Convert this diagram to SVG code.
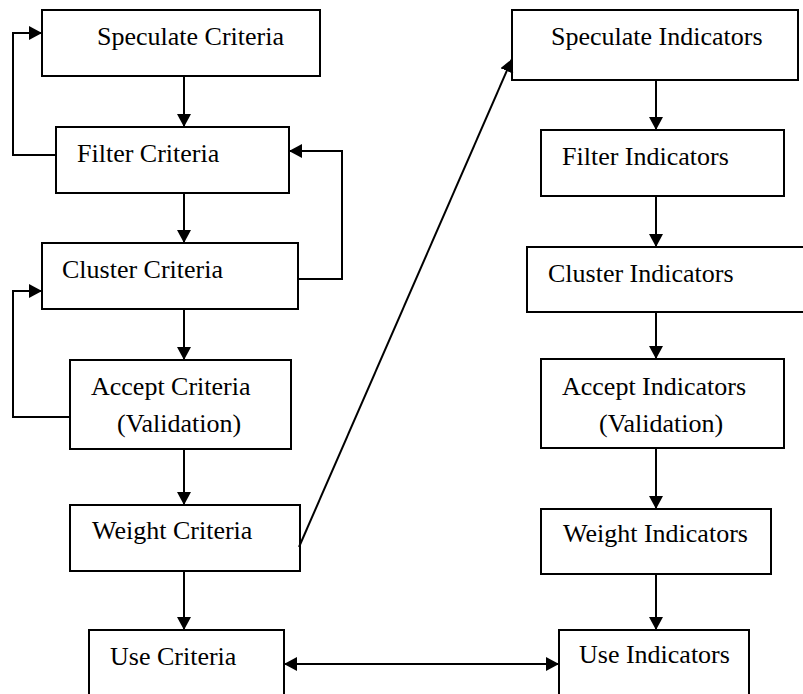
<svg xmlns="http://www.w3.org/2000/svg" width="803" height="694" viewBox="0 0 803 694">
  <style>
    .box { fill: #fff; stroke: #000; stroke-width: 2; }
    .lbl { font-family: "Liberation Serif", "Times New Roman", serif; font-size: 26px; fill: #000; }
    .wire { fill: none; stroke: #000; stroke-width: 2; }
  </style>
  <defs>
    <marker id="head" markerUnits="userSpaceOnUse" markerWidth="13" markerHeight="14" refX="13" refY="7" orient="auto-start-reverse">
      <path d="M0,0 L13,7 L0,14 z" fill="#000"/>
    </marker>
  </defs>
  <rect width="803" height="694" fill="#fff"/>

  <!-- criteria column -->
  <g id="speculate-criteria">
    <rect class="box" x="42" y="10" width="278" height="66"/>
    <text class="lbl" x="97" y="45">Speculate Criteria</text>
  </g>
  <g id="filter-criteria">
    <rect class="box" x="56" y="127" width="233" height="66"/>
    <text class="lbl" x="77" y="162">Filter Criteria</text>
  </g>
  <g id="cluster-criteria">
    <rect class="box" x="42" y="243" width="256" height="66"/>
    <text class="lbl" x="62" y="278">Cluster Criteria</text>
  </g>
  <g id="accept-criteria">
    <rect class="box" x="70" y="360" width="221" height="89"/>
    <text class="lbl" x="91" y="395">Accept Criteria</text>
    <text class="lbl" x="117" y="432">(Validation)</text>
  </g>
  <g id="weight-criteria">
    <rect class="box" x="70" y="505" width="230" height="66"/>
    <text class="lbl" x="92" y="539">Weight Criteria</text>
  </g>
  <g id="use-criteria">
    <rect class="box" x="89" y="630" width="195" height="80"/>
    <text class="lbl" x="110" y="665">Use Criteria</text>
  </g>

  <!-- indicators column -->
  <g id="speculate-indicators">
    <rect class="box" x="512" y="10" width="286" height="70"/>
    <text class="lbl" x="551" y="45">Speculate Indicators</text>
  </g>
  <g id="filter-indicators">
    <rect class="box" x="541" y="130" width="243" height="66"/>
    <text class="lbl" x="562" y="165">Filter Indicators</text>
  </g>
  <g id="cluster-indicators">
    <rect class="box" x="527" y="247" width="290" height="65"/>
    <text class="lbl" x="548" y="282">Cluster Indicators</text>
  </g>
  <g id="accept-indicators">
    <rect class="box" x="541" y="359" width="243" height="89"/>
    <text class="lbl" x="562" y="395">Accept Indicators</text>
    <text class="lbl" x="599" y="432">(Validation)</text>
  </g>
  <g id="weight-indicators">
    <rect class="box" x="541" y="509" width="230" height="65"/>
    <text class="lbl" x="563" y="542">Weight Indicators</text>
  </g>
  <g id="use-indicators">
    <rect class="box" x="559" y="630" width="190" height="80"/>
    <text class="lbl" x="579" y="663">Use Indicators</text>
  </g>

  <!-- connectors -->
  <g id="connectors">
    <path class="wire" d="M184,76 V127" marker-end="url(#head)"/>
    <path class="wire" d="M184,193 V243" marker-end="url(#head)"/>
    <path class="wire" d="M184,309 V360" marker-end="url(#head)"/>
    <path class="wire" d="M184,449 V505" marker-end="url(#head)"/>
    <path class="wire" d="M184,571 V630" marker-end="url(#head)"/>

    <path class="wire" d="M656,80 V130" marker-end="url(#head)"/>
    <path class="wire" d="M656,196 V247" marker-end="url(#head)"/>
    <path class="wire" d="M656,312 V359" marker-end="url(#head)"/>
    <path class="wire" d="M656,448 V509" marker-end="url(#head)"/>
    <path class="wire" d="M656,574 V630" marker-end="url(#head)"/>

    <path class="wire" d="M57,155 H13 V33 H42" marker-end="url(#head)"/>
    <path class="wire" d="M70,417 H13 V291 H42" marker-end="url(#head)"/>
    <path class="wire" d="M298,279 H342 V151 H289" marker-end="url(#head)"/>

    <path class="wire" d="M299,547 L512,59" marker-end="url(#head)"/>
    <path class="wire" d="M284,664 H559" marker-start="url(#head)" marker-end="url(#head)"/>
  </g>
</svg>
